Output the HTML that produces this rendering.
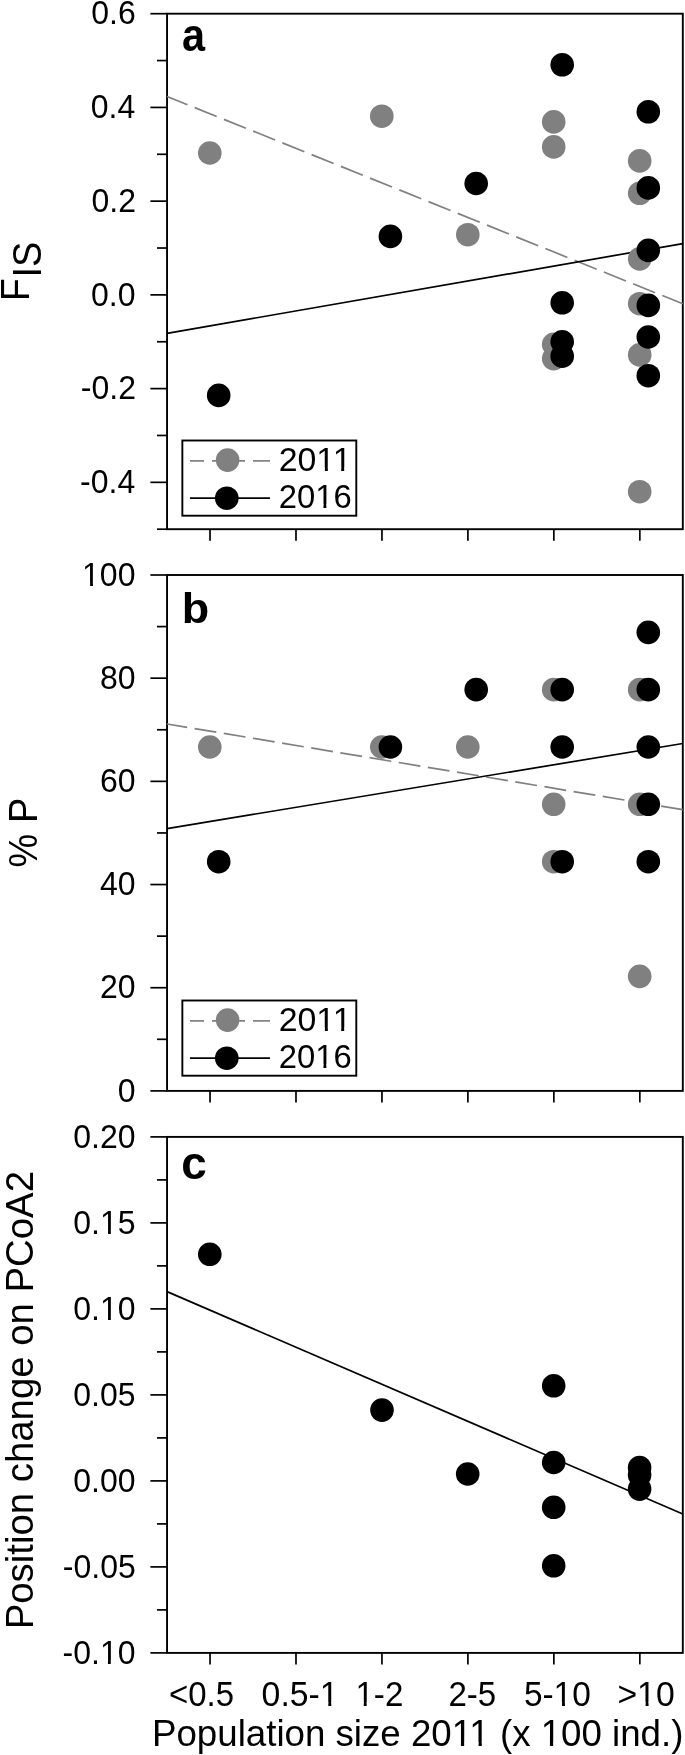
<!DOCTYPE html>
<html><head><meta charset="utf-8"><style>
html,body{margin:0;padding:0;background:#fff;}
svg{display:block;filter:grayscale(1);}
text{font-family:"Liberation Sans", sans-serif;fill:#000;}
</style></head><body>
<svg width="685" height="1755" viewBox="0 0 685 1755">
<rect width="685" height="1755" fill="#fff"/>
<rect x="167.05" y="13.7" width="515.75" height="515.50" fill="none" stroke="#000" stroke-width="1.9"/>
<rect x="167.05" y="575.0" width="515.75" height="515.90" fill="none" stroke="#000" stroke-width="1.9"/>
<rect x="167.05" y="1136.9" width="515.75" height="516.00" fill="none" stroke="#000" stroke-width="1.9"/>
<line x1="150.4" y1="13.70" x2="167.05" y2="13.70" stroke="#000" stroke-width="1.7"/>
<g transform="translate(91.30,24.40) scale(1,1.06)"><text x="0" y="0" font-size="32">0.6</text></g>
<line x1="150.4" y1="107.43" x2="167.05" y2="107.43" stroke="#000" stroke-width="1.7"/>
<g transform="translate(90.80,118.13) scale(1,1.06)"><text x="0" y="0" font-size="32">0.4</text></g>
<line x1="150.4" y1="201.15" x2="167.05" y2="201.15" stroke="#000" stroke-width="1.7"/>
<g transform="translate(91.55,211.85) scale(1,1.06)"><text x="0" y="0" font-size="32">0.2</text></g>
<line x1="150.4" y1="294.88" x2="167.05" y2="294.88" stroke="#000" stroke-width="1.7"/>
<g transform="translate(91.05,305.58) scale(1,1.06)"><text x="0" y="0" font-size="32">0.0</text></g>
<line x1="150.4" y1="388.61" x2="167.05" y2="388.61" stroke="#000" stroke-width="1.7"/>
<g transform="translate(80.80,399.31) scale(1,1.06)"><text x="0" y="0" font-size="32">-0.2</text></g>
<line x1="150.4" y1="482.34" x2="167.05" y2="482.34" stroke="#000" stroke-width="1.7"/>
<g transform="translate(80.05,493.04) scale(1,1.06)"><text x="0" y="0" font-size="32">-0.4</text></g>
<line x1="157.0" y1="60.56" x2="167.05" y2="60.56" stroke="#000" stroke-width="1.7"/>
<line x1="157.0" y1="154.29" x2="167.05" y2="154.29" stroke="#000" stroke-width="1.7"/>
<line x1="157.0" y1="248.02" x2="167.05" y2="248.02" stroke="#000" stroke-width="1.7"/>
<line x1="157.0" y1="341.75" x2="167.05" y2="341.75" stroke="#000" stroke-width="1.7"/>
<line x1="157.0" y1="435.47" x2="167.05" y2="435.47" stroke="#000" stroke-width="1.7"/>
<line x1="157.0" y1="529.20" x2="167.05" y2="529.20" stroke="#000" stroke-width="1.7"/>
<line x1="150.4" y1="575.00" x2="167.05" y2="575.00" stroke="#000" stroke-width="1.7"/>
<g transform="translate(82.05,585.70) scale(1,1.06)"><text x="0" y="0" font-size="32">100</text><rect x="1.54" y="-3.39" width="6.51" height="4.39" fill="#fff"/><rect x="10.88" y="-3.39" width="6.26" height="4.39" fill="#fff"/></g>
<line x1="150.4" y1="678.18" x2="167.05" y2="678.18" stroke="#000" stroke-width="1.7"/>
<g transform="translate(100.05,688.88) scale(1,1.06)"><text x="0" y="0" font-size="32">80</text></g>
<line x1="150.4" y1="781.36" x2="167.05" y2="781.36" stroke="#000" stroke-width="1.7"/>
<g transform="translate(100.05,792.06) scale(1,1.06)"><text x="0" y="0" font-size="32">60</text></g>
<line x1="150.4" y1="884.54" x2="167.05" y2="884.54" stroke="#000" stroke-width="1.7"/>
<g transform="translate(100.05,895.24) scale(1,1.06)"><text x="0" y="0" font-size="32">40</text></g>
<line x1="150.4" y1="987.72" x2="167.05" y2="987.72" stroke="#000" stroke-width="1.7"/>
<g transform="translate(100.05,998.42) scale(1,1.06)"><text x="0" y="0" font-size="32">20</text></g>
<line x1="150.4" y1="1090.90" x2="167.05" y2="1090.90" stroke="#000" stroke-width="1.7"/>
<g transform="translate(117.80,1101.60) scale(1,1.06)"><text x="0" y="0" font-size="32">0</text></g>
<line x1="157.0" y1="626.59" x2="167.05" y2="626.59" stroke="#000" stroke-width="1.7"/>
<line x1="157.0" y1="729.77" x2="167.05" y2="729.77" stroke="#000" stroke-width="1.7"/>
<line x1="157.0" y1="832.95" x2="167.05" y2="832.95" stroke="#000" stroke-width="1.7"/>
<line x1="157.0" y1="936.13" x2="167.05" y2="936.13" stroke="#000" stroke-width="1.7"/>
<line x1="157.0" y1="1039.31" x2="167.05" y2="1039.31" stroke="#000" stroke-width="1.7"/>
<line x1="150.4" y1="1136.90" x2="167.05" y2="1136.90" stroke="#000" stroke-width="1.7"/>
<g transform="translate(73.30,1147.60) scale(1,1.06)"><text x="0" y="0" font-size="32">0.20</text></g>
<line x1="150.4" y1="1222.90" x2="167.05" y2="1222.90" stroke="#000" stroke-width="1.7"/>
<g transform="translate(73.30,1233.60) scale(1,1.06)"><text x="0" y="0" font-size="32">0.15</text><rect x="28.21" y="-3.39" width="6.51" height="4.39" fill="#fff"/><rect x="37.55" y="-3.39" width="6.26" height="4.39" fill="#fff"/></g>
<line x1="150.4" y1="1308.90" x2="167.05" y2="1308.90" stroke="#000" stroke-width="1.7"/>
<g transform="translate(73.30,1319.60) scale(1,1.06)"><text x="0" y="0" font-size="32">0.10</text><rect x="28.21" y="-3.39" width="6.51" height="4.39" fill="#fff"/><rect x="37.55" y="-3.39" width="6.26" height="4.39" fill="#fff"/></g>
<line x1="150.4" y1="1394.90" x2="167.05" y2="1394.90" stroke="#000" stroke-width="1.7"/>
<g transform="translate(73.30,1405.60) scale(1,1.06)"><text x="0" y="0" font-size="32">0.05</text></g>
<line x1="150.4" y1="1480.90" x2="167.05" y2="1480.90" stroke="#000" stroke-width="1.7"/>
<g transform="translate(73.30,1491.60) scale(1,1.06)"><text x="0" y="0" font-size="32">0.00</text></g>
<line x1="150.4" y1="1566.90" x2="167.05" y2="1566.90" stroke="#000" stroke-width="1.7"/>
<g transform="translate(62.80,1577.60) scale(1,1.06)"><text x="0" y="0" font-size="32">-0.05</text></g>
<line x1="150.4" y1="1652.90" x2="167.05" y2="1652.90" stroke="#000" stroke-width="1.7"/>
<g transform="translate(62.55,1663.60) scale(1,1.06)"><text x="0" y="0" font-size="32">-0.10</text><rect x="38.87" y="-3.39" width="6.51" height="4.39" fill="#fff"/><rect x="48.21" y="-3.39" width="6.26" height="4.39" fill="#fff"/></g>
<line x1="157.0" y1="1179.90" x2="167.05" y2="1179.90" stroke="#000" stroke-width="1.7"/>
<line x1="157.0" y1="1265.90" x2="167.05" y2="1265.90" stroke="#000" stroke-width="1.7"/>
<line x1="157.0" y1="1351.90" x2="167.05" y2="1351.90" stroke="#000" stroke-width="1.7"/>
<line x1="157.0" y1="1437.90" x2="167.05" y2="1437.90" stroke="#000" stroke-width="1.7"/>
<line x1="157.0" y1="1523.90" x2="167.05" y2="1523.90" stroke="#000" stroke-width="1.7"/>
<line x1="157.0" y1="1609.90" x2="167.05" y2="1609.90" stroke="#000" stroke-width="1.7"/>
<line x1="210.03" y1="529.2" x2="210.03" y2="540.7" stroke="#000" stroke-width="1.7"/>
<line x1="295.99" y1="529.2" x2="295.99" y2="540.7" stroke="#000" stroke-width="1.7"/>
<line x1="381.95" y1="529.2" x2="381.95" y2="540.7" stroke="#000" stroke-width="1.7"/>
<line x1="467.90" y1="529.2" x2="467.90" y2="540.7" stroke="#000" stroke-width="1.7"/>
<line x1="553.86" y1="529.2" x2="553.86" y2="540.7" stroke="#000" stroke-width="1.7"/>
<line x1="639.82" y1="529.2" x2="639.82" y2="540.7" stroke="#000" stroke-width="1.7"/>
<line x1="210.03" y1="1090.9" x2="210.03" y2="1102.4" stroke="#000" stroke-width="1.7"/>
<line x1="295.99" y1="1090.9" x2="295.99" y2="1102.4" stroke="#000" stroke-width="1.7"/>
<line x1="381.95" y1="1090.9" x2="381.95" y2="1102.4" stroke="#000" stroke-width="1.7"/>
<line x1="467.90" y1="1090.9" x2="467.90" y2="1102.4" stroke="#000" stroke-width="1.7"/>
<line x1="553.86" y1="1090.9" x2="553.86" y2="1102.4" stroke="#000" stroke-width="1.7"/>
<line x1="639.82" y1="1090.9" x2="639.82" y2="1102.4" stroke="#000" stroke-width="1.7"/>
<line x1="210.03" y1="1652.9" x2="210.03" y2="1664.4" stroke="#000" stroke-width="1.7"/>
<line x1="295.99" y1="1652.9" x2="295.99" y2="1664.4" stroke="#000" stroke-width="1.7"/>
<line x1="381.95" y1="1652.9" x2="381.95" y2="1664.4" stroke="#000" stroke-width="1.7"/>
<line x1="467.90" y1="1652.9" x2="467.90" y2="1664.4" stroke="#000" stroke-width="1.7"/>
<line x1="553.86" y1="1652.9" x2="553.86" y2="1664.4" stroke="#000" stroke-width="1.7"/>
<line x1="639.82" y1="1652.9" x2="639.82" y2="1664.4" stroke="#000" stroke-width="1.7"/>
<line x1="167.05" y1="96.5" x2="682.8" y2="303.8" stroke="#808080" stroke-width="1.7" stroke-dasharray="23.7 7.8" stroke-dashoffset="1.7"/>
<line x1="167.05" y1="333.4" x2="682.8" y2="243.6" stroke="#000" stroke-width="1.7"/>
<line x1="167.05" y1="724" x2="682.8" y2="809.7" stroke="#808080" stroke-width="1.7" stroke-dasharray="22.0 7.55" stroke-dashoffset="1.6"/>
<line x1="167.05" y1="828.6" x2="682.8" y2="743.5" stroke="#000" stroke-width="1.7"/>
<line x1="167.05" y1="1291.6" x2="682.8" y2="1514.0" stroke="#000" stroke-width="1.7"/>
<circle cx="209.8" cy="153.0" r="11.8" fill="#808080"/>
<circle cx="381.8" cy="116.2" r="11.8" fill="#808080"/>
<circle cx="467.8" cy="234.7" r="11.8" fill="#808080"/>
<circle cx="553.7" cy="121.9" r="11.8" fill="#808080"/>
<circle cx="553.7" cy="146.9" r="11.8" fill="#808080"/>
<circle cx="553.7" cy="344.4" r="11.8" fill="#808080"/>
<circle cx="553.7" cy="358.6" r="11.8" fill="#808080"/>
<circle cx="639.7" cy="160.9" r="11.8" fill="#808080"/>
<circle cx="639.7" cy="193.3" r="11.8" fill="#808080"/>
<circle cx="639.7" cy="258.9" r="11.8" fill="#808080"/>
<circle cx="639.7" cy="303.7" r="11.8" fill="#808080"/>
<circle cx="639.7" cy="354.9" r="11.8" fill="#808080"/>
<circle cx="639.7" cy="491.7" r="11.8" fill="#808080"/>
<circle cx="218.7" cy="395.4" r="11.8" fill="#000"/>
<circle cx="390.4" cy="236.4" r="11.8" fill="#000"/>
<circle cx="476.2" cy="183.5" r="11.8" fill="#000"/>
<circle cx="562.2" cy="64.8" r="11.8" fill="#000"/>
<circle cx="562.2" cy="302.8" r="11.8" fill="#000"/>
<circle cx="562.2" cy="341.8" r="11.8" fill="#000"/>
<circle cx="562.2" cy="356.2" r="11.8" fill="#000"/>
<circle cx="648.3" cy="111.8" r="11.8" fill="#000"/>
<circle cx="648.3" cy="187.9" r="11.8" fill="#000"/>
<circle cx="648.3" cy="250.4" r="11.8" fill="#000"/>
<circle cx="648.3" cy="305.4" r="11.8" fill="#000"/>
<circle cx="648.3" cy="337.0" r="11.8" fill="#000"/>
<circle cx="648.3" cy="375.7" r="11.8" fill="#000"/>
<circle cx="209.8" cy="746.98" r="11.8" fill="#808080"/>
<circle cx="381.8" cy="746.98" r="11.8" fill="#808080"/>
<circle cx="467.8" cy="746.98" r="11.8" fill="#808080"/>
<circle cx="553.7" cy="689.66" r="11.8" fill="#808080"/>
<circle cx="553.7" cy="804.31" r="11.8" fill="#808080"/>
<circle cx="553.7" cy="861.69" r="11.8" fill="#808080"/>
<circle cx="639.7" cy="689.66" r="11.8" fill="#808080"/>
<circle cx="639.7" cy="804.31" r="11.8" fill="#808080"/>
<circle cx="639.7" cy="976.34" r="11.8" fill="#808080"/>
<circle cx="218.7" cy="861.69" r="11.8" fill="#000"/>
<circle cx="390.4" cy="746.98" r="11.8" fill="#000"/>
<circle cx="476.2" cy="689.66" r="11.8" fill="#000"/>
<circle cx="562.2" cy="689.66" r="11.8" fill="#000"/>
<circle cx="562.2" cy="746.98" r="11.8" fill="#000"/>
<circle cx="562.2" cy="861.69" r="11.8" fill="#000"/>
<circle cx="648.3" cy="632.33" r="11.8" fill="#000"/>
<circle cx="648.3" cy="689.66" r="11.8" fill="#000"/>
<circle cx="648.3" cy="746.98" r="11.8" fill="#000"/>
<circle cx="648.3" cy="804.31" r="11.8" fill="#000"/>
<circle cx="648.3" cy="861.69" r="11.8" fill="#000"/>
<circle cx="209.8" cy="1254.3" r="11.8" fill="#000"/>
<circle cx="382.0" cy="1410.1" r="11.8" fill="#000"/>
<circle cx="467.7" cy="1474.0" r="11.8" fill="#000"/>
<circle cx="553.7" cy="1385.8" r="11.8" fill="#000"/>
<circle cx="553.7" cy="1462.5" r="11.8" fill="#000"/>
<circle cx="553.7" cy="1507.3" r="11.8" fill="#000"/>
<circle cx="553.7" cy="1565.8" r="11.8" fill="#000"/>
<circle cx="639.6" cy="1467.6" r="11.8" fill="#000"/>
<circle cx="639.6" cy="1475.0" r="11.8" fill="#000"/>
<circle cx="639.6" cy="1489.1" r="11.8" fill="#000"/>
<rect x="182.35" y="440.5" width="173.95" height="75.2" fill="#fff" stroke="#000" stroke-width="1.9"/>
<line x1="190" y1="460.9" x2="204" y2="460.9" stroke="#808080" stroke-width="1.7"/>
<line x1="212" y1="460.9" x2="245" y2="460.9" stroke="#808080" stroke-width="1.7"/>
<line x1="253" y1="460.9" x2="270" y2="460.9" stroke="#808080" stroke-width="1.7"/>
<circle cx="227.6" cy="460.1" r="11.8" fill="#808080"/>
<line x1="190" y1="498.2" x2="270" y2="498.2" stroke="#000" stroke-width="1.7"/>
<circle cx="226.8" cy="498.2" r="11.8" fill="#000"/>
<g transform="translate(278.68,471.00) scale(1,1.035)"><text x="0" y="0" font-size="32.5" textLength="72.85" lengthAdjust="spacingAndGlyphs">2011</text><rect x="39.35" y="-3.43" width="6.84" height="4.43" fill="#fff"/><rect x="49.18" y="-3.43" width="6.57" height="4.43" fill="#fff"/><rect x="55.67" y="-3.43" width="6.84" height="4.43" fill="#fff"/><rect x="65.51" y="-3.43" width="6.57" height="4.43" fill="#fff"/></g>
<g transform="translate(278.73,507.80) scale(1,1.035)"><text x="0" y="0" font-size="32.5" textLength="72.99" lengthAdjust="spacingAndGlyphs">2016</text><rect x="38.08" y="-3.43" width="6.65" height="4.43" fill="#fff"/><rect x="47.63" y="-3.43" width="6.39" height="4.43" fill="#fff"/></g>
<rect x="182.35" y="1000.5" width="173.95" height="75.2" fill="#fff" stroke="#000" stroke-width="1.9"/>
<line x1="190" y1="1020.9" x2="204" y2="1020.9" stroke="#808080" stroke-width="1.7"/>
<line x1="212" y1="1020.9" x2="245" y2="1020.9" stroke="#808080" stroke-width="1.7"/>
<line x1="253" y1="1020.9" x2="270" y2="1020.9" stroke="#808080" stroke-width="1.7"/>
<circle cx="227.6" cy="1020.1" r="11.8" fill="#808080"/>
<line x1="190" y1="1058.2" x2="270" y2="1058.2" stroke="#000" stroke-width="1.7"/>
<circle cx="226.8" cy="1058.2" r="11.8" fill="#000"/>
<g transform="translate(278.68,1031.00) scale(1,1.035)"><text x="0" y="0" font-size="32.5" textLength="72.85" lengthAdjust="spacingAndGlyphs">2011</text><rect x="39.35" y="-3.43" width="6.84" height="4.43" fill="#fff"/><rect x="49.18" y="-3.43" width="6.57" height="4.43" fill="#fff"/><rect x="55.67" y="-3.43" width="6.84" height="4.43" fill="#fff"/><rect x="65.51" y="-3.43" width="6.57" height="4.43" fill="#fff"/></g>
<g transform="translate(278.73,1067.80) scale(1,1.035)"><text x="0" y="0" font-size="32.5" textLength="72.99" lengthAdjust="spacingAndGlyphs">2016</text><rect x="38.08" y="-3.43" width="6.65" height="4.43" fill="#fff"/><rect x="47.63" y="-3.43" width="6.39" height="4.43" fill="#fff"/></g>
<g transform="translate(182.06,51.00)"><text x="0" y="0" font-size="45.5" font-weight="bold" textLength="23.07" lengthAdjust="spacingAndGlyphs">a</text></g>
<g transform="translate(181.84,622.70) scale(1,0.94)"><text x="0" y="0" font-size="45.5" font-weight="bold" textLength="27.43" lengthAdjust="spacingAndGlyphs">b</text></g>
<g transform="translate(181.34,1178.70)"><text x="0" y="0" font-size="45.5" font-weight="bold" textLength="25.48" lengthAdjust="spacingAndGlyphs">c</text></g>
<g transform="translate(169.05,1705.80) scale(1,1.06)"><text x="0" y="0" font-size="33" textLength="65.05" lengthAdjust="spacingAndGlyphs">&lt;0.5</text></g>
<g transform="translate(261.62,1705.80) scale(1,1.06)"><text x="0" y="0" font-size="33" textLength="76.99" lengthAdjust="spacingAndGlyphs">0.5-1</text><rect x="59.87" y="-3.47" width="6.82" height="4.47" fill="#fff"/><rect x="69.67" y="-3.47" width="6.56" height="4.47" fill="#fff"/></g>
<g transform="translate(355.41,1705.80) scale(1,1.06)"><text x="0" y="0" font-size="33" textLength="47.90" lengthAdjust="spacingAndGlyphs">1-2</text><rect x="1.62" y="-3.47" width="6.71" height="4.47" fill="#fff"/><rect x="11.26" y="-3.47" width="6.45" height="4.47" fill="#fff"/></g>
<g transform="translate(448.45,1705.80) scale(1,1.06)"><text x="0" y="0" font-size="33" textLength="47.81" lengthAdjust="spacingAndGlyphs">2-5</text></g>
<g transform="translate(523.88,1705.80) scale(1,1.06)"><text x="0" y="0" font-size="33" textLength="66.95" lengthAdjust="spacingAndGlyphs">5-10</text><rect x="31.37" y="-3.47" width="6.76" height="4.47" fill="#fff"/><rect x="41.09" y="-3.47" width="6.50" height="4.47" fill="#fff"/></g>
<g transform="translate(617.41,1705.80) scale(1,1.06)"><text x="0" y="0" font-size="33" textLength="57.25" lengthAdjust="spacingAndGlyphs">&gt;10</text><rect x="21.36" y="-3.47" width="6.82" height="4.47" fill="#fff"/><rect x="31.16" y="-3.47" width="6.55" height="4.47" fill="#fff"/></g>
<g transform="translate(152.01,1746.00)"><text x="0" y="0" font-size="36.8" textLength="531.40" lengthAdjust="spacingAndGlyphs">Population size 2011 (x 100 ind.)</text><rect x="301.57" y="-3.75" width="7.33" height="4.75" fill="#fff"/><rect x="312.14" y="-3.75" width="7.04" height="4.75" fill="#fff"/><rect x="319.24" y="-3.75" width="7.33" height="4.75" fill="#fff"/><rect x="329.81" y="-3.75" width="7.04" height="4.75" fill="#fff"/><rect x="390.56" y="-3.75" width="7.33" height="4.75" fill="#fff"/><rect x="401.13" y="-3.75" width="7.04" height="4.75" fill="#fff"/></g>
<g transform="translate(28.80,300.94) rotate(-90) scale(1,1.04)"><text x="0" y="0" font-size="38.4" textLength="22.64" lengthAdjust="spacingAndGlyphs">F</text></g>
<g transform="translate(41.20,277.57) rotate(-90) scale(1,1.04)"><text x="0" y="0" font-size="38.4" textLength="35.93" lengthAdjust="spacingAndGlyphs">IS</text></g>
<g transform="translate(36.90,867.38) rotate(-90) scale(1,1.04)"><text x="0" y="0" font-size="38.5" textLength="69.56" lengthAdjust="spacingAndGlyphs">% P</text></g>
<g transform="translate(33.40,1629.35) rotate(-90)"><text x="0" y="0" font-size="38.3" textLength="458.36" lengthAdjust="spacingAndGlyphs">Position change on PCoA2</text></g>
</svg>
</body></html>
